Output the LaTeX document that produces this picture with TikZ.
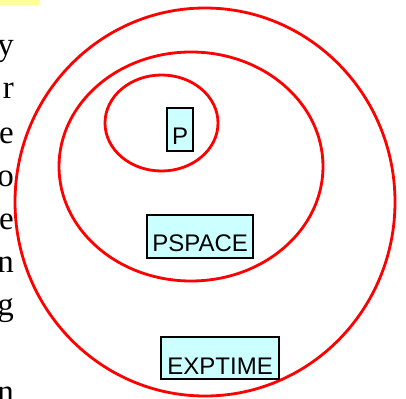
\documentclass[tikz,border=0pt]{standalone}
\usepackage{fontspec}
\setmainfont{Liberation Serif}
\newfontfamily\labelfont{Liberation Sans}
\definecolor{classred}{RGB}{255,0,0}
\definecolor{classfill}{RGB}{204,255,255}
\definecolor{markyellow}{RGB}{255,255,153}
\tikzset{
  classset/.style={draw=classred, line width=2.8pt},
  classbox/.style={draw=black, line width=2.2pt, fill=classfill, inner sep=0pt,
    text height=36pt, text depth=7pt, anchor=north west,
    font=\labelfont\fontsize{24}{24}\selectfont},
  margintext/.style={anchor=base east, inner sep=0pt,
    font=\fontsize{33}{33}\selectfont}
}
\begin{document}
\begin{tikzpicture}[x=1pt,y=-1pt]
\useasboundingbox (0,0) rectangle (406,398);
% highlight strip at the top left
\fill[markyellow] (0,0) rectangle (39,5);
% line endings of the paragraph at the left
\node[margintext] (l1) at (14,56) {y};
\node[margintext] (l2) at (14,99) {r};
\node[margintext] (l3) at (14,143) {e};
\node[margintext] (l4) at (14,186) {o};
\node[margintext] (l5) at (14,229) {e};
\node[margintext] (l6) at (14,272) {n};
\node[margintext] (l7) at (14,315) {g};
\node[margintext] (l8) at (14,402) {n};
% nested complexity classes
\draw[classset] (205,202) ellipse [x radius=190, y radius=194];
\draw[classset] (191,166.5) ellipse [x radius=132, y radius=114.5];
\draw[classset] (161.5,123) ellipse [x radius=56.5, y radius=48];
% class labels
\node[classbox, minimum width=26pt] (p) at (166,107) {P};
\node[classbox, minimum width=106pt] (pspace) at (146,214) {PSPACE};
\node[classbox, minimum width=118pt, text height=37pt, text depth=5pt] (exptime) at (160,336) {EXPTIME};
\end{tikzpicture}
\end{document}
